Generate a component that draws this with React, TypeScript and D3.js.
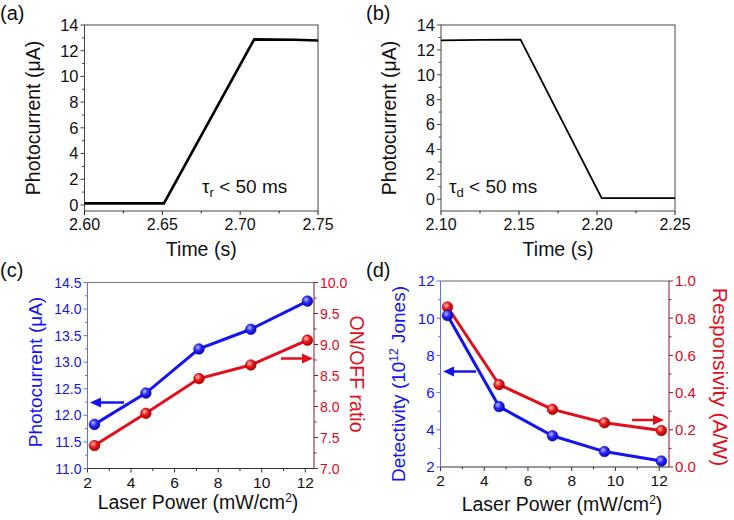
import React from "react";
import * as d3 from "d3";

// ---------- data ----------
const riseTime = [2.6, 2.651, 2.709, 2.735, 2.75];
const riseCurrent = [0.12, 0.12, 12.88, 12.85, 12.8];
const decayTime = [2.1, 2.126, 2.151, 2.203, 2.25];
const decayCurrent = [12.76, 12.8, 12.82, 0.08, 0.08];

const laserPower = [2.32, 4.68, 7.12, 9.5, 12.1];
const photocurrentC = [11.83, 12.42, 13.25, 13.62, 14.15];
const onOffRatio = [7.37, 7.89, 8.45, 8.67, 9.07];
const detectivity = [10.15, 5.25, 3.68, 2.83, 2.32];
const responsivity = [0.86, 0.443, 0.31, 0.238, 0.196];

const timeTicksA = [2.6, 2.65, 2.7, 2.75];
const timeTicksB = [2.1, 2.15, 2.2, 2.25];
const currentTicks = [0, 2, 4, 6, 8, 10, 12, 14];
const powerTicks = [2, 4, 6, 8, 10, 12];
const photoTicksC = [11.0, 11.5, 12.0, 12.5, 13.0, 13.5, 14.0, 14.5];
const ratioTicks = [7.0, 7.5, 8.0, 8.5, 9.0, 9.5, 10.0];
const detTicks = [2, 4, 6, 8, 10, 12];
const respTicks = [0.0, 0.2, 0.4, 0.6, 0.8, 1.0];

const FONT = "'Liberation Sans', Arial, sans-serif";
const BLUE = "#1414f0";
const RED = "#e0101c";
const RED_TEXT = "#d80a26";
const MAROON = "#7e1838";
const AXIS_BLUE = "#6a6af0";

type Sc = d3.ScaleLinear<number, number>;

function XAxis({ x, y, ticks, minor, fmt, size, color = "#222" }: { x: Sc; y: number; ticks: number[]; minor: number[]; fmt: (v: number) => string; size: number; color?: string }) {
  return (
    <g>
      {ticks.map((t) => (
        <g key={"M" + t}>
          <line x1={x(t)} x2={x(t)} y1={y} y2={y + 4} stroke={color} strokeWidth={1} />
          <text x={x(t)} y={y + 19} fontSize={size} textAnchor="middle" fill="#111" fontFamily={FONT}>{fmt(t)}</text>
        </g>
      ))}
      {minor.map((t) => (
        <line key={"m" + t} x1={x(t)} x2={x(t)} y1={y} y2={y + 2.5} stroke={color} strokeWidth={1} />
      ))}
    </g>
  );
}

function YAxis({ y, x, ticks, minor, fmt, size, color, textColor, side }: { y: Sc; x: number; ticks: number[]; minor: number[]; fmt: (v: number) => string; size: number; color: string; textColor: string; side: "left" | "right" }) {
  const s = side === "left" ? -1 : 1;
  return (
    <g>
      {ticks.map((t) => (
        <g key={"M" + t}>
          <line x1={x} x2={x + s * 4} y1={y(t)} y2={y(t)} stroke={color} strokeWidth={1} />
          <text x={x + s * 6} y={y(t)} dy="0.36em" fontSize={size} textAnchor={side === "left" ? "end" : "start"} fill={textColor} fontFamily={FONT}>{fmt(t)}</text>
        </g>
      ))}
      {minor.map((t) => (
        <line key={"m" + t} x1={x} x2={x + s * 2.5} y1={y(t)} y2={y(t)} stroke={color} strokeWidth={1} />
      ))}
    </g>
  );
}

function mids(arr: number[]) {
  const out: number[] = [];
  for (let i = 0; i < arr.length - 1; i++) out.push((arr[i] + arr[i + 1]) / 2);
  return out;
}

function Arrow({ x1, x2, y, color }: { x1: number; x2: number; y: number; color: string }) {
  const dir = Math.sign(x2 - x1);
  return (
    <g>
      <line x1={x1} x2={x2 - dir * 8} y1={y} y2={y} stroke={color} strokeWidth={2.5} />
      <path d={`M${x2},${y} L${x2 - dir * 11},${y - 5} L${x2 - dir * 11},${y + 5} Z`} fill={color} />
    </g>
  );
}

function TimePanel({ t, c, x0, x1, xDom, yDom, xTicks, label, tauSub, tauX, lw, panelX }: any) {
  const x = d3.scaleLinear().domain(xDom).range([x0, x1]);
  const y = d3.scaleLinear().domain(yDom).range([211, 25]);
  const line = d3.line<number>().x((d, i) => x(t[i])).y((d) => y(d));
  const xm = mids(xTicks);
  const ym = mids(currentTicks);
  return (
    <g>
      <text x={panelX} y={20} fontSize={20} fontFamily={FONT} fill="#111">{label}</text>
      <rect x={x0} y={25} width={x1 - x0} height={186} fill="none" stroke="#444" strokeWidth={1} />
      <path d={line(c) || ""} fill="none" stroke="#000" strokeWidth={lw} strokeLinejoin="miter" />
      <XAxis x={x} y={211} ticks={xTicks} minor={xm} fmt={(v) => v.toFixed(2)} size={16} />
      <YAxis y={y} x={x0} ticks={currentTicks} minor={ym} fmt={(v) => String(v)} size={16.5} color="#444" textColor="#111" side="left" />
      <text x={(x0 + x1) / 2} y={256} fontSize={19.5} textAnchor="middle" fontFamily={FONT} fill="#111">Time (s)</text>
      <text transform={`translate(${x0 - 45},118) rotate(-90)`} fontSize={19.5} textAnchor="middle" fontFamily={FONT} fill="#111">Photocurrent (μA)</text>
      <text x={tauX} y={193} fontSize={19} fontFamily={FONT} fill="#111">τ<tspan fontSize={13} dy={4}>{tauSub}</tspan><tspan dy={-4}> &lt; 50 ms</tspan></text>
    </g>
  );
}

function Ball({ cx, cy, color, id }: { cx: number; cy: number; color: string; id: string }) {
  return <circle cx={cx} cy={cy} r={5.3} fill={`url(#${id})`} stroke={color} strokeWidth={0.6} />;
}

export default function App() {
  // panel c
  const xc = d3.scaleLinear().domain([2, 12.4]).range([87.5, 314]);
  const ycL = d3.scaleLinear().domain([11, 14.5]).range([468.5, 282.5]);
  const ycR = d3.scaleLinear().domain([7, 10]).range([468.5, 282.5]);
  // panel d
  const xd = d3.scaleLinear().domain([2, 12.45]).range([440.5, 669]);
  const ydL = d3.scaleLinear().domain([2, 12]).range([467, 281]);
  const ydR = d3.scaleLinear().domain([0, 1]).range([467, 281]);

  const lineC1 = d3.line<number>().x((d, i) => xc(laserPower[i])).y((d) => ycL(d));
  const lineC2 = d3.line<number>().x((d, i) => xc(laserPower[i])).y((d) => ycR(d));
  const lineD1 = d3.line<number>().x((d, i) => xd(laserPower[i])).y((d) => ydL(d));
  const lineD2 = d3.line<number>().x((d, i) => xd(laserPower[i])).y((d) => ydR(d));

  const pm = [3, 5, 7, 9, 11];

  return (
    <svg width={734} height={520} style={{ position: "absolute", left: 0, top: 0, background: "#fff" }} fontFamily={FONT}>
      <defs>
        <radialGradient id="gb" cx="0.38" cy="0.35" r="0.7">
          <stop offset="0" stopColor="#b8b8ff" />
          <stop offset="0.45" stopColor="#2a2aff" />
          <stop offset="1" stopColor="#0000a8" />
        </radialGradient>
        <radialGradient id="gr" cx="0.38" cy="0.35" r="0.7">
          <stop offset="0" stopColor="#ffc0c0" />
          <stop offset="0.45" stopColor="#ee1a1a" />
          <stop offset="1" stopColor="#a00000" />
        </radialGradient>
      </defs>
      <rect width={734} height={520} fill="#fff" />

      <TimePanel t={riseTime} c={riseCurrent} x0={84.5} x1={318} xDom={[2.6, 2.75]} yDom={[-0.47, 14]} xTicks={timeTicksA} label="(a)" tauSub="r" tauX={202} lw={2.6} panelX={0} />
      <TimePanel t={decayTime} c={decayCurrent} x0={441} x1={675} xDom={[2.1, 2.25]} yDom={[-0.95, 14]} xTicks={timeTicksB} label="(b)" tauSub="d" tauX={449} lw={1.8} panelX={366} />

      {/* panel c */}
      <text x={0} y={277} fontSize={20} fontFamily={FONT} fill="#111">(c)</text>
      <line x1={87.5} x2={314} y1={282.5} y2={282.5} stroke="#777" strokeWidth={1} />
      <line x1={87.5} x2={314} y1={468.5} y2={468.5} stroke="#333" strokeWidth={1} />
      <line x1={87.5} x2={87.5} y1={282.5} y2={468.5} stroke={AXIS_BLUE} strokeWidth={1} />
      <line x1={314} x2={314} y1={282.5} y2={468.5} stroke={MAROON} strokeWidth={1} />
      <path d={lineC1(photocurrentC) || ""} fill="none" stroke={BLUE} strokeWidth={3} />
      <path d={lineC2(onOffRatio) || ""} fill="none" stroke={RED} strokeWidth={3} />
      {photocurrentC.map((v, i) => <Ball key={"cb" + i} cx={xc(laserPower[i])} cy={ycL(v)} color="#0000a0" id="gb" />)}
      {onOffRatio.map((v, i) => <Ball key={"cr" + i} cx={xc(laserPower[i])} cy={ycR(v)} color="#a00000" id="gr" />)}
      <XAxis x={xc} y={468.5} ticks={powerTicks} minor={pm} fmt={(v) => String(v)} size={15.5} color="#333" />
      <YAxis y={ycL} x={87.5} ticks={photoTicksC} minor={mids(photoTicksC)} fmt={(v) => v.toFixed(1)} size={14} color={AXIS_BLUE} textColor={BLUE} side="left" />
      <YAxis y={ycR} x={314} ticks={ratioTicks} minor={mids(ratioTicks)} fmt={(v) => v.toFixed(1)} size={14} color={MAROON} textColor={RED_TEXT} side="right" />
      <Arrow x1={124} x2={90} y={402.5} color={BLUE} />
      <Arrow x1={281} x2={313} y={358.5} color={RED} />
      <text x={198} y={509} fontSize={19.5} textAnchor="middle" fontFamily={FONT} fill="#111">Laser Power (mW/cm<tspan fontSize={12} dy={-7}>2</tspan><tspan dy={7}>)</tspan></text>
      <text transform="translate(42,372) rotate(-90)" fontSize={19} textAnchor="middle" fontFamily={FONT} fill={BLUE}>Photocurrent (μA)</text>
      <text transform="translate(350,374) rotate(90)" fontSize={19.5} textAnchor="middle" fontFamily={FONT} fill={RED}>ON/OFF ratio</text>

      {/* panel d */}
      <text x={366} y={277} fontSize={20} fontFamily={FONT} fill="#111">(d)</text>
      <line x1={440.5} x2={669} y1={281} y2={281} stroke="#999" strokeWidth={1.5} />
      <line x1={440.5} x2={669} y1={467} y2={467} stroke="#333" strokeWidth={1} />
      <line x1={440.5} x2={440.5} y1={281} y2={467} stroke={AXIS_BLUE} strokeWidth={1} />
      <line x1={669} x2={669} y1={281} y2={467} stroke={MAROON} strokeWidth={1} />
      <path d={lineD2(responsivity) || ""} fill="none" stroke={RED} strokeWidth={3} />
      <path d={lineD1(detectivity) || ""} fill="none" stroke={BLUE} strokeWidth={3} />
      {responsivity.map((v, i) => <Ball key={"dr" + i} cx={xd(laserPower[i])} cy={ydR(v)} color="#a00000" id="gr" />)}
      {detectivity.map((v, i) => <Ball key={"db" + i} cx={xd(laserPower[i])} cy={ydL(v)} color="#0000a0" id="gb" />)}
      <XAxis x={xd} y={467} ticks={powerTicks} minor={pm} fmt={(v) => String(v)} size={15.5} color="#333" />
      <YAxis y={ydL} x={440.5} ticks={detTicks} minor={mids(detTicks)} fmt={(v) => String(v)} size={15} color={AXIS_BLUE} textColor={BLUE} side="left" />
      <YAxis y={ydR} x={669} ticks={respTicks} minor={mids(respTicks)} fmt={(v) => v.toFixed(1)} size={15} color={MAROON} textColor={RED_TEXT} side="right" />
      <Arrow x1={476} x2={443} y={371.5} color={BLUE} />
      <Arrow x1={632} x2={664} y={420} color={RED} />
      <text x={562} y={511} fontSize={19.5} textAnchor="middle" fontFamily={FONT} fill="#111">Laser Power (mW/cm<tspan fontSize={12} dy={-7}>2</tspan><tspan dy={7}>)</tspan></text>
      <text transform="translate(405,384) rotate(-90)" fontSize={19} textAnchor="middle" fontFamily={FONT} fill={BLUE}>Detectivity (10<tspan fontSize={12} dy={-7}>12</tspan><tspan dy={7}> Jones)</tspan></text>
      <text transform="translate(713,377) rotate(90)" fontSize={21} textAnchor="middle" fontFamily={FONT} fill={RED}>Responsivity (A/W)</text>
    </svg>
  );
}
